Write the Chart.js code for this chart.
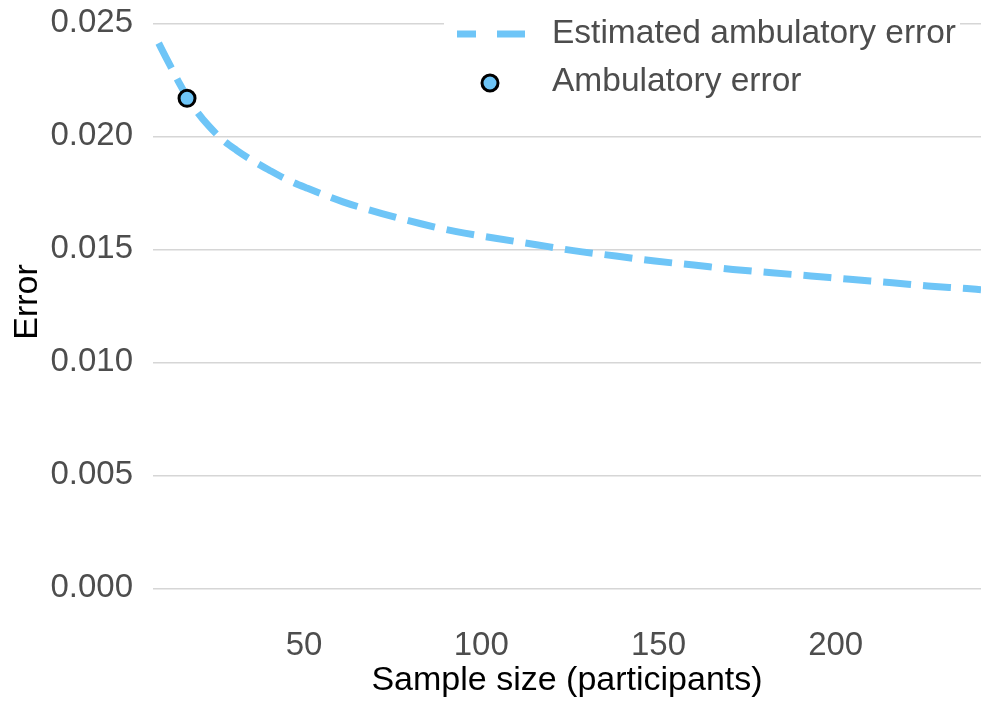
<!DOCTYPE html>
<html>
<head>
<meta charset="utf-8">
<script src="https://cdn.jsdelivr.net/npm/chart.js@4/dist/chart.umd.min.js"></script>
<style>
  html, body { margin: 0; padding: 0; background: #fff; }
  #wrap { width: 981px; height: 702px; }
</style>
</head>
<body>
<div id="wrap"><canvas id="err-chart" width="981" height="702"></canvas></div>
<script>
// ============================================
// Estimated vs observed ambulatory error
// ============================================

// --- data ---
const sampleSizes = [9, 11, 13, 15, 17, 20, 23, 27, 31, 35, 40, 45, 51, 61, 72, 83, 93, 104, 116, 126, 138, 149, 160, 171, 182, 193, 204, 216, 226, 237, 241];
const estimatedError = [0.02412, 0.0235, 0.0229, 0.0223, 0.02175, 0.02105, 0.02048, 0.01985, 0.01938, 0.01897, 0.01852, 0.0181, 0.0177, 0.0171, 0.01658, 0.01613, 0.01578, 0.01549, 0.01519, 0.01494, 0.0147, 0.01448, 0.0143, 0.01411, 0.01396, 0.01382, 0.01367, 0.01352, 0.01338, 0.01326, 0.01321];

const observedSize = [17];
const observedError = [0.02168];

const xTicks = [50, 100, 150, 200];
const yTicks = [0, 0.005, 0.010, 0.015, 0.020, 0.025];

const seriesLabels = ['Estimated ambulatory error', 'Ambulatory error'];

// --- styles ---
const BLUE = '#6ec5f7';
const FONT = '"Liberation Sans", Arial, Helvetica, sans-serif';
const TICK_COLOR = '#4d4d4d';
const GRID_COLOR = '#d6d6d6';

// legend drawn inside the panel, top right
const insideLegend = {
  id: 'insideLegend',
  afterDraw(chart) {
    const ctx = chart.ctx;
    ctx.save();
    ctx.fillStyle = '#fff';
    ctx.fillRect(444, 6, 516, 110);

    // dashed key
    ctx.strokeStyle = BLUE;
    ctx.lineWidth = 7;
    ctx.lineCap = 'butt';
    ctx.setLineDash([19, 21, 28]);
    ctx.beginPath();
    ctx.moveTo(457, 34);
    ctx.lineTo(525, 34);
    ctx.stroke();
    ctx.setLineDash([]);

    // point key
    ctx.beginPath();
    ctx.arc(490, 83, 8, 0, Math.PI * 2);
    ctx.fillStyle = BLUE;
    ctx.fill();
    ctx.lineWidth = 3;
    ctx.strokeStyle = '#000';
    ctx.stroke();

    ctx.fillStyle = TICK_COLOR;
    ctx.font = '33.5px ' + FONT;
    ctx.textBaseline = 'middle';
    ctx.textAlign = 'left';
    ctx.fillText(seriesLabels[0], 552, 34);
    ctx.fillText(seriesLabels[1], 552, 82);
    ctx.restore();
  }
};

new Chart(document.getElementById('err-chart'), {
  type: 'line',
  data: {
    datasets: [
      {
        label: seriesLabels[0],
        data: sampleSizes.map((n, i) => ({ x: n, y: estimatedError[i] })),
        borderColor: BLUE,
        borderWidth: 7,
        borderDash: [28, 12],
        pointRadius: 0,
        fill: false,
        cubicInterpolationMode: 'monotone',
        order: 2
      },
      {
        type: 'scatter',
        label: seriesLabels[1],
        data: observedSize.map((n, i) => ({ x: n, y: observedError[i] })),
        backgroundColor: BLUE,
        borderColor: '#000',
        borderWidth: 3,
        pointRadius: 8,
        order: 1
      }
    ]
  },
  options: {
    responsive: false,
    animation: false,
    layout: { padding: 0, autoPadding: false },
    plugins: {
      legend: { display: false },
      tooltip: { enabled: false }
    },
    scales: {
      x: {
        type: 'linear',
        min: 7.4,
        max: 241,
        afterBuildTicks: (s) => { s.ticks = xTicks.map(v => ({ value: v })); },
        afterFit: (s) => {
          s.height = 98;
          s.paddingLeft = 0;
          s.paddingRight = 0;
        },
        grid: { display: false, drawTicks: false },
        border: { display: false },
        ticks: {
          padding: 22,
          color: TICK_COLOR,
          font: { family: FONT, size: 33 },
          maxRotation: 0
        },
        title: {
          display: true,
          text: 'Sample size (participants)',
          color: '#000',
          font: { family: FONT, size: 34 },
          padding: { top: 0, bottom: 1 }
        }
      },
      y: {
        min: -0.000695,
        max: 0.02603,
        afterBuildTicks: (s) => { s.ticks = yTicks.map(v => ({ value: v })); },
        afterFit: (s) => {
          s.width = 153;
          s.paddingTop = 0;
          s.paddingBottom = 0;
        },
        grid: { color: GRID_COLOR, lineWidth: 1.5, drawTicks: false },
        border: { display: false },
        ticks: {
          padding: 20,
          color: TICK_COLOR,
          font: { family: FONT, size: 33 },
          callback: (v) => v.toFixed(3)
        },
        title: {
          display: true,
          text: 'Error',
          color: '#000',
          font: { family: FONT, size: 34 },
          padding: { top: 7, bottom: 0 }
        }
      }
    }
  },
  plugins: [insideLegend]
});
</script>
</body>
</html>
